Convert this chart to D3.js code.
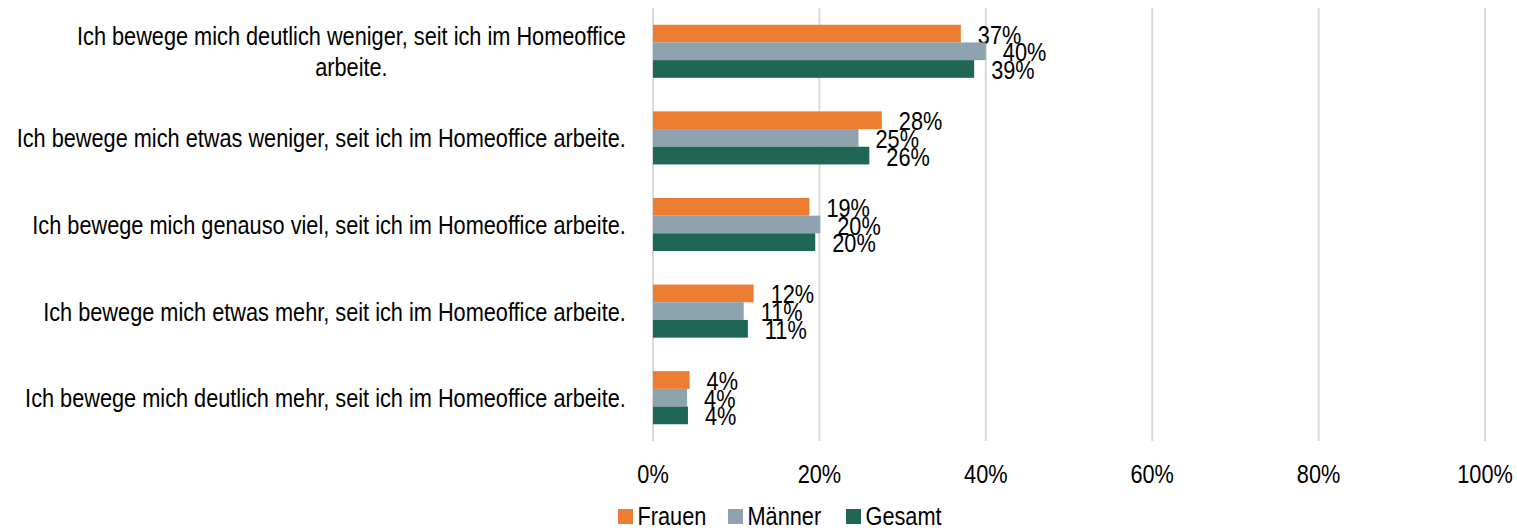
<!DOCTYPE html>
<html>
<head>
<meta charset="utf-8">
<script src="https://cdn.jsdelivr.net/npm/d3@7"></script>
<style>
  html, body { margin: 0; padding: 0; background: #fff; }
  svg text { font-family: "Liberation Sans", Arial, sans-serif; fill: #000; }
</style>
</head>
<body>
<svg id="chart" width="1517" height="530"></svg>
<script>
const categories = [
  "Ich bewege mich deutlich weniger, seit ich im Homeoffice arbeite.",
  "Ich bewege mich etwas weniger, seit ich im Homeoffice arbeite.",
  "Ich bewege mich genauso viel, seit ich im Homeoffice arbeite.",
  "Ich bewege mich etwas mehr, seit ich im Homeoffice arbeite.",
  "Ich bewege mich deutlich mehr, seit ich im Homeoffice arbeite."
];
const seriesNames = ["Frauen", "Männer", "Gesamt"];
const frauen = [37.0, 27.5, 18.8, 12.1, 4.4];
const maenner = [40.0, 24.7, 20.1, 10.9, 4.1];
const gesamt = [38.6, 26.0, 19.5, 11.4, 4.2];
const tickValues = [0, 20, 40, 60, 80, 100];
const colors = ["#ED7D31", "#8EA3AF", "#1F6655"];

const seriesValues = [frauen, maenner, gesamt];
const svg = d3.select("#chart");
const FS = 26.5, SX = 0.82;

// helper: condensed text placed at (x,y)
function ctext(parent, x, y, str, anchor) {
  return parent.append("g")
    .attr("transform", `translate(${x},${y}) scale(${SX},1)`)
    .append("text")
    .attr("x", 0).attr("y", 0)
    .attr("font-size", FS)
    .attr("text-anchor", anchor || "start")
    .text(str);
}

const plotLeft = 653, plotRight = 1485, plotTop = 8, plotBottom = 441;
const x = d3.scaleLinear().domain([0, 100]).range([plotLeft, plotRight]);
const y = d3.scaleBand().domain(categories).range([plotTop, plotBottom]).paddingInner(0.387).paddingOuter(0.1935);
const ySub = d3.scaleBand().domain(seriesNames).range([0, y.bandwidth()]);

// gridlines
svg.append("g").selectAll("line").data(tickValues).join("line")
  .attr("x1", d => x(d)).attr("x2", d => x(d))
  .attr("y1", plotTop).attr("y2", plotBottom)
  .attr("stroke", "#d9d9d9").attr("stroke-width", 2);

// x tick labels positioned by the scale
const tickFormat = d => d + "%";
const gx = svg.append("g").attr("class", "xaxis");
tickValues.forEach(v => {
  ctext(gx, x(v), 483, tickFormat(v), "middle");
});

// bars
const groups = svg.append("g").selectAll("g").data(categories).join("g")
  .attr("transform", d => `translate(0,${y(d)})`);

groups.each(function(cat, ci) {
  const g = d3.select(this);
  seriesNames.forEach((s, si) => {
    const v = seriesValues[si][ci];
    g.append("rect")
      .attr("x", x(0)).attr("y", ySub(s))
      .attr("width", x(v) - x(0)).attr("height", ySub.bandwidth())
      .attr("fill", colors[si]);
    ctext(g, x(v) + 17, ySub(s) + ySub.bandwidth() / 2 + 10, Math.round(v) + "%", "start");
  });
});

// category labels
const labelRight = 628, labelWidth = 620, lh = 31;
const lab = svg.append("g");
const tmp = svg.append("text").attr("font-size", FS);
const measure = s => { tmp.text(s); return tmp.node().getComputedTextLength() * SX; };
categories.forEach(d => {
  const cy = y(d) + y.bandwidth() / 2;
  const words = d.split(" ");
  let lines = [], cur = [];
  words.forEach(w => {
    const test = cur.concat([w]).join(" ");
    if (measure(test) > labelWidth && cur.length) { lines.push(cur.join(" ")); cur = [w]; }
    else cur.push(w);
  });
  lines.push(cur.join(" "));
  const maxW = d3.max(lines, measure);
  const cx = labelRight - maxW / 2;
  lines.forEach((ln, i) => {
    ctext(lab, cx - 2, cy + (i - (lines.length - 1) / 2) * lh + 9.5, ln, "middle");
  });
});
tmp.remove();

// legend
const legend = svg.append("g");
const legendX = [618, 728, 846];
seriesNames.forEach((s, i) => {
  legend.append("rect").attr("x", legendX[i]).attr("y", 509).attr("width", 15).attr("height", 15).attr("fill", colors[i]);
  ctext(legend, legendX[i] + 19.5, 525, s, "start");
});
</script>
</body>
</html>
